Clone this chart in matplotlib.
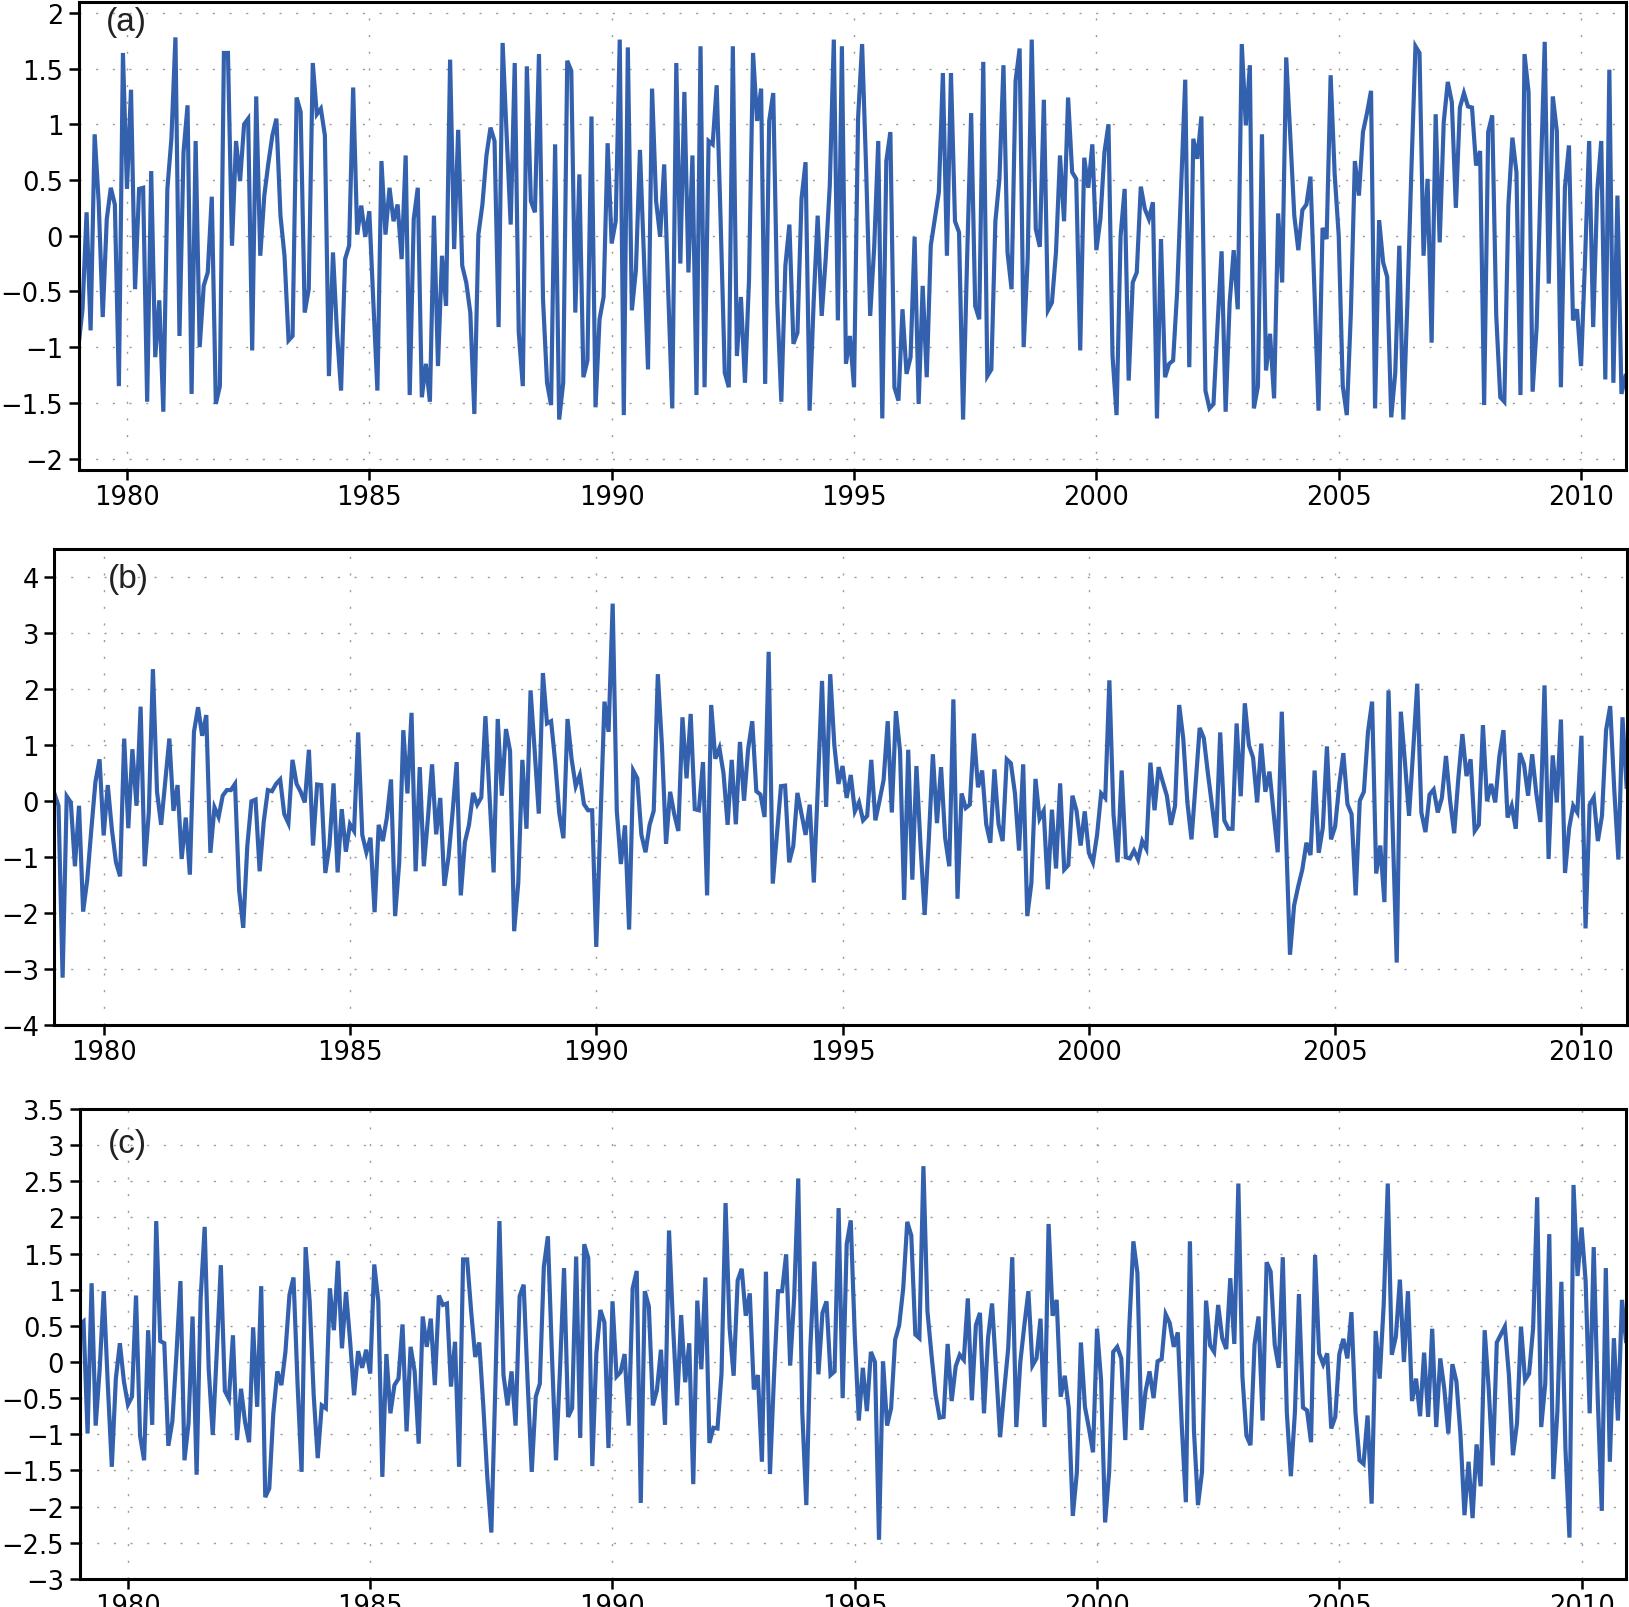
import matplotlib
matplotlib.use("Agg")
import matplotlib.pyplot as plt
from matplotlib.ticker import FixedLocator, FuncFormatter
import numpy as np

# ---- data (monthly, Jan 1979 - Dec 2010), one row per year ----
series_a = [
    -0.99,-0.66,0.21,-0.85,0.91,0.30,-0.73,0.15,0.43,0.28,-1.35,1.64,
    0.42,1.31,-0.48,0.42,0.43,-1.49,0.58,-1.09,-0.58,-1.58,0.42,0.87,
    1.78,-0.90,0.75,1.17,-1.42,0.85,-1.00,-0.45,-0.33,0.35,-1.51,-1.35,
    1.64,1.64,-0.09,0.85,0.49,1.00,1.05,-1.03,1.25,-0.18,0.36,0.65,
    0.90,1.05,0.18,-0.18,-0.94,-0.90,1.24,1.11,-0.69,-0.48,1.55,1.09,
    1.14,0.90,-1.26,-0.15,-0.87,-1.39,-0.21,-0.09,1.33,0.01,0.27,-0.01,
    0.22,-0.60,-1.39,0.67,0.01,0.43,0.13,0.28,-0.21,0.72,-1.43,0.15,
    0.43,-1.45,-1.15,-1.49,0.18,-1.17,-0.18,-0.63,1.58,-0.12,0.95,-0.27,
    -0.42,-0.69,-1.60,0.01,0.28,0.72,0.97,0.85,-0.82,1.73,0.90,0.10,
    1.55,-0.87,-1.35,1.52,0.31,0.21,1.63,-0.57,-1.32,-1.52,0.82,-1.65,
    -1.32,1.57,1.48,-0.69,0.55,-1.27,-1.12,1.07,-1.54,-0.75,-0.55,0.83,
    -0.07,0.13,1.76,-1.61,1.69,-0.67,-0.31,0.77,-0.20,-1.20,1.32,0.31,
    -0.01,0.64,-0.50,-1.55,1.55,-0.25,1.29,-0.33,0.72,-1.43,1.70,-1.36,
    0.85,0.82,1.35,0.10,-1.23,-1.36,1.70,-1.08,-0.55,-1.32,-0.40,1.64,
    1.03,1.32,-1.33,1.03,1.28,-0.60,-1.49,-0.27,0.10,-0.97,-0.87,0.33,
    0.66,-1.57,-0.60,0.18,-0.72,-0.20,0.45,1.76,-0.76,1.70,-1.15,-0.90,
    -1.36,1.05,1.72,0.60,-0.72,-0.10,0.85,-1.64,0.67,0.93,-1.36,-1.48,
    -0.66,-1.24,-1.09,-0.01,-1.51,-0.45,-1.27,-0.09,0.15,0.39,1.46,-0.18,
    1.46,0.13,0.03,-1.65,-0.20,1.10,-0.63,-0.75,1.56,-1.26,-1.20,0.13,
    0.51,1.53,-0.15,-0.48,1.39,1.68,-1.00,-0.20,1.76,0.06,-0.10,1.22,
    -0.67,-0.60,-0.15,0.72,0.13,1.24,0.57,0.51,-1.03,0.70,0.43,0.82,
    -0.13,0.15,0.75,1.00,-1.08,-1.61,0.00,0.42,-1.30,-0.42,-0.33,0.44,
    0.24,0.15,0.30,-1.64,-0.03,-1.27,-1.15,-1.12,-0.50,0.45,1.40,-1.18,
    0.87,0.69,1.07,-1.39,-1.55,-1.51,-0.80,-0.14,-1.58,-0.60,-0.13,-0.66,
    1.72,0.99,1.53,-1.55,-1.35,0.91,-1.21,-0.88,-1.46,0.20,-0.42,1.60,
    0.90,0.18,-0.13,0.23,0.28,0.53,-0.50,-1.57,0.07,-0.03,1.44,0.55,
    0.00,-1.35,-1.61,-0.70,0.67,0.36,0.93,1.10,1.30,-1.55,0.14,-0.24,
    -0.37,-1.63,-1.23,-0.09,-1.65,-0.60,0.60,1.70,1.64,-0.18,0.51,-0.96,
    1.09,-0.06,1.02,1.38,1.20,0.25,1.15,1.28,1.16,1.15,0.63,0.76,
    -1.52,0.93,1.08,-0.72,-1.45,-1.49,0.27,0.88,0.57,-1.43,1.63,1.29,
    -1.40,-0.82,0.50,1.74,-0.43,1.25,0.94,-1.36,0.43,0.81,-0.76,-0.66,
    -1.17,-0.20,0.85,-0.82,0.40,0.85,-1.29,1.49,-1.32,0.36,-1.42,-1.26,
]

series_b = [
    0.14,-0.08,-3.15,0.09,-0.02,-1.16,-0.08,-1.97,-1.40,-0.50,0.35,0.75,
    -0.61,0.29,-0.50,-1.09,-1.34,1.12,-0.48,0.93,-0.08,1.69,-1.16,-0.20,
    2.36,0.17,-0.42,0.35,1.12,-0.17,0.29,-1.03,-0.29,-1.31,1.24,1.68,
    1.17,1.54,-0.92,-0.11,-0.28,0.10,0.20,0.20,0.31,-1.59,-2.26,-0.79,
    0.00,0.03,-1.25,-0.36,0.20,0.18,0.31,0.39,-0.23,-0.39,0.74,0.31,
    0.17,-0.02,0.92,-0.79,0.30,0.29,-1.28,-0.79,0.32,-1.27,-0.14,-0.90,
    -0.41,-0.53,1.23,-0.60,-0.91,-0.65,-1.98,-0.42,-0.71,-0.29,0.39,-2.05,
    -1.09,1.27,0.14,1.58,-1.25,0.61,-1.16,-0.30,0.66,-0.59,0.06,-1.51,
    -1.00,-0.20,0.70,-1.68,-0.73,-0.42,0.15,-0.06,0.07,1.52,0.10,-1.27,
    1.47,0.10,1.29,0.90,-2.32,-1.46,0.74,-0.49,1.98,0.90,-0.22,2.29,
    1.39,1.43,0.70,-0.22,-0.66,1.47,0.75,0.27,0.47,-0.05,-0.16,-0.16,
    -2.60,-0.40,1.78,1.24,3.53,-0.17,-1.12,-0.43,-2.29,0.55,0.41,-0.60,
    -0.91,-0.42,-0.17,2.27,1.00,-0.76,0.17,-0.23,-0.53,1.50,0.41,1.56,
    -0.14,-0.16,0.70,-1.68,1.72,0.76,0.95,0.50,-0.42,0.74,-0.41,1.06,
    0.01,0.93,1.43,0.18,0.12,-0.28,2.67,-1.47,-0.60,0.27,0.28,-1.09,
    -0.80,0.15,-0.23,-0.60,-0.06,-1.45,0.30,2.15,-0.10,2.27,1.00,0.31,
    0.63,0.06,0.47,-0.18,-0.02,-0.34,-0.26,0.74,-0.34,0.01,0.38,1.43,
    -0.20,1.61,0.90,-1.76,0.92,-1.40,0.63,-0.80,-2.03,-0.70,0.84,-0.39,
    0.61,-0.66,-1.16,1.82,-1.74,0.14,-0.12,-0.06,1.21,0.25,0.55,-0.41,
    -0.74,0.57,-0.41,-0.71,0.75,0.68,0.14,-0.88,0.66,-2.05,-1.46,0.40,
    -0.31,-0.17,-1.57,-0.15,-1.20,0.32,-1.22,-1.14,0.10,-0.17,-0.79,-0.18,
    -0.92,-1.09,-0.60,0.14,0.06,2.16,-0.23,-1.09,0.55,-1.00,-1.02,-0.88,
    -1.04,-0.71,-0.85,0.69,-0.16,0.61,0.35,0.10,-0.42,-0.08,1.72,1.12,
    -0.02,-0.68,0.30,1.31,1.13,0.50,-0.08,-0.65,1.23,-0.34,-0.49,-0.49,
    1.39,0.09,1.75,1.00,0.78,-0.02,1.03,0.17,0.53,-0.20,-0.91,1.60,
    -0.54,-2.74,-1.86,-1.52,-1.22,-0.74,-0.96,0.55,-0.92,-0.47,0.98,-0.68,
    -0.45,0.30,0.86,-0.05,-0.23,-1.68,0.01,0.17,1.24,1.78,-1.29,-0.79,
    -1.80,1.98,-0.45,-2.88,1.60,0.70,-0.26,0.90,2.10,-0.20,-0.55,0.12,
    0.21,-0.20,0.06,0.81,0.01,-0.57,0.40,1.20,0.45,0.75,-0.53,-0.42,
    1.36,0.00,0.31,-0.02,0.80,1.27,-0.29,-0.08,-0.49,0.86,0.66,0.10,
    0.84,0.14,-0.37,2.07,-1.03,0.82,-0.02,1.46,-1.28,-0.48,-0.08,-0.20,
    1.17,-2.27,-0.06,0.07,-0.71,-0.26,1.27,1.70,0.20,-1.04,1.50,0.26,
]

series_c = [
    0.51,0.56,-0.99,1.09,-0.88,-0.10,0.98,-0.30,-1.45,-0.23,0.26,-0.27,
    -0.59,-0.48,0.92,-1.02,-1.36,0.44,-0.87,1.95,0.29,0.26,-1.16,-0.82,
    0.10,1.12,-1.36,-0.85,0.63,-1.56,0.88,1.87,-0.10,-1.01,0.14,1.34,
    -0.40,-0.51,0.37,-1.08,-0.37,-0.83,-1.11,0.48,-0.62,1.05,-1.87,-1.75,
    -0.71,-0.13,-0.32,0.14,0.93,1.17,-0.30,-1.52,1.59,0.84,-0.46,-1.33,
    -0.60,-0.64,1.02,0.44,1.40,0.19,0.97,0.30,-0.46,0.15,-0.08,0.17,
    -0.16,1.35,0.84,-1.59,0.11,-0.71,-0.32,-0.23,0.52,-0.96,0.21,-0.13,
    -1.13,0.63,0.21,0.60,-0.32,0.92,0.79,0.81,-0.34,0.28,-1.45,1.42,
    1.42,0.70,0.07,0.27,-0.60,-1.60,-2.36,-0.30,1.95,-0.18,-0.60,-0.13,
    -0.88,0.91,1.07,-0.30,-1.52,-0.48,-0.30,1.32,1.74,0.10,-1.36,-0.10,
    1.30,-0.76,-0.64,1.46,-1.05,1.63,1.44,-1.44,0.12,0.72,0.55,-1.19,
    0.84,-0.20,-0.14,0.11,-0.88,1.02,1.26,-1.95,0.98,0.77,-0.60,-0.39,
    0.17,-0.87,1.82,0.50,-0.60,0.65,-0.28,0.26,-1.69,0.85,-0.10,1.17,
    -1.12,-0.91,-0.92,-0.16,2.20,0.47,-0.19,1.13,1.29,0.64,0.95,-0.38,
    -0.18,-1.38,1.25,-1.55,-0.20,0.98,0.98,1.49,-0.05,0.90,2.54,-0.70,
    -1.98,0.20,1.39,-0.17,0.68,0.84,-0.18,-0.13,2.13,-0.50,1.63,1.96,
    0.37,-0.81,-0.08,-0.68,0.14,0.00,-2.46,0.01,-0.88,-0.64,0.31,0.51,
    1.02,1.94,1.75,0.38,0.33,2.71,0.70,0.10,-0.45,-0.77,-0.76,0.25,
    -0.54,-0.06,0.10,0.03,0.88,-0.53,0.51,0.68,-0.71,0.33,0.81,-0.10,
    -1.04,-0.40,0.19,1.45,-0.90,0.00,0.51,0.98,-0.05,0.05,0.60,-0.90,
    1.91,0.64,0.86,-0.48,-0.19,-0.64,-2.13,-1.53,0.27,-0.62,-0.92,-1.25,
    0.46,-0.25,-2.22,-1.52,0.14,0.21,0.05,-1.08,0.50,1.67,1.23,-0.94,
    -0.41,-0.13,-0.50,0.01,0.04,0.66,0.54,0.21,0.41,-0.90,-1.94,1.67,
    -0.95,-1.98,-1.52,0.85,0.23,0.14,0.79,0.33,0.18,1.16,0.25,2.47,
    -0.20,-1.02,-1.15,0.24,0.63,-0.81,1.38,1.25,0.24,-0.08,1.45,-0.70,
    -1.58,-0.70,0.94,-0.63,-0.67,-1.11,1.48,0.12,-0.03,0.12,-0.92,-0.76,
    0.11,0.32,0.05,0.69,-0.70,-1.36,-1.41,-0.74,-1.96,0.43,-0.23,0.80,
    2.47,0.10,0.35,1.14,0.00,0.98,-0.54,-0.23,-0.75,0.13,-0.76,0.46,
    -0.90,0.05,-0.37,-0.99,-0.03,-0.27,-1.00,-2.12,-1.38,-2.16,-1.14,-1.72,
    0.44,-0.37,-1.43,0.27,0.38,0.49,-0.18,-1.29,-0.85,0.49,-0.25,-0.16,
    0.47,2.28,-0.90,-0.30,1.77,-1.62,-0.69,1.11,-1.20,-2.43,2.45,1.19,
    1.86,1.12,-0.71,1.59,-0.50,-2.06,1.30,-1.38,0.33,-0.81,0.86,0.29,
]

start_year = 1979
n_months = 384
x_ticks = [1980, 1985, 1990, 1995, 2000, 2005, 2010]
y_ticks_a = [-2, -1.5, -1, -0.5, 0, 0.5, 1, 1.5, 2]
y_ticks_b = [-4, -3, -2, -1, 0, 1, 2, 3, 4]
y_ticks_c = [-3, -2.5, -2, -1.5, -1, -0.5, 0, 0.5, 1, 1.5, 2, 2.5, 3, 3.5]
panel_labels = ["(a)", "(b)", "(c)"]

# ---- figure ----
W, H = 1629, 1608
fig = plt.figure(figsize=(W / 100, H / 100), dpi=100)

def px_axes(left, top, right, bottom):
    return fig.add_axes([left / W, 1 - bottom / H, (right - left) / W, (bottom - top) / H])

months = start_year + np.arange(n_months) / 12.0
line_color = "#3461ae"
fmt = FuncFormatter(lambda v, p: f"{v:g}".replace("-", "\u2212"))

specs = [
    (px_axes(78.5, 2.7, 1625.5, 470.7), series_a, y_ticks_a, (-2.1, 2.1), (0.018, 0.990)),
    (px_axes(54.4, 550.3, 1626.6, 1026.3), series_b, y_ticks_b, (-4, 4.5), (0.034, 0.972)),
    (px_axes(79.5, 1110.1, 1626.0, 1579.8), series_c, y_ticks_c, (-3, 3.5), (0.0185, 0.960)),
]

for (ax, vals, yt, ylim, lab_pos), lab in zip(specs, panel_labels):
    ax.plot(months, vals, color=line_color, lw=3.0, solid_joinstyle="miter", zorder=3)
    ax.set_xlim(months[0], months[-1])
    ax.set_ylim(*ylim)
    ax.xaxis.set_major_locator(FixedLocator(x_ticks))
    ax.yaxis.set_major_locator(FixedLocator(yt))
    ax.yaxis.set_major_formatter(fmt)
    ax.grid(True, color="#9a9a9a", lw=1.0, linestyle=(0, (1.5, 10.5)), zorder=0)
    for s in ax.spines.values():
        s.set_linewidth(2.2)
        s.set_zorder(4)
    ax.tick_params(axis="both", which="major", direction="out", length=7, width=1.8,
                   labelsize=18.5, colors="black")
    ax.tick_params(axis="y", pad=4)
    ax.tick_params(axis="x", pad=3)
    for t in ax.get_xticklabels() + ax.get_yticklabels():
        t.set_fontfamily("DejaVu Sans")
    ax.text(lab_pos[0], lab_pos[1], lab, transform=ax.transAxes, ha="left", va="top",
            fontsize=24, fontfamily="Liberation Sans", color="#222222", zorder=5)

fig.savefig("out.png", dpi=100)
